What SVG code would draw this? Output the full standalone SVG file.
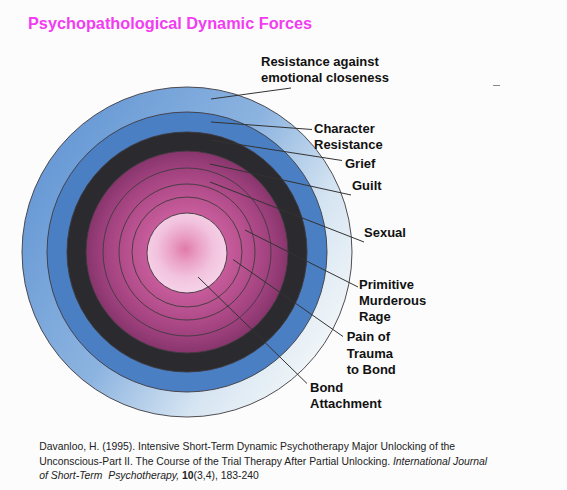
<svg xmlns="http://www.w3.org/2000/svg" width="567" height="490" viewBox="0 0 567 490">
  <defs>
    <linearGradient id="gOuter" x1="0.05" y1="0.3" x2="0.9" y2="0.85">
      <stop offset="0" stop-color="#6a9bd6"/>
      <stop offset="0.45" stop-color="#8db4e0"/>
      <stop offset="0.75" stop-color="#d6e5f2"/>
      <stop offset="1" stop-color="#f2f6f8"/>
    </linearGradient>
    <radialGradient id="gMagenta" gradientUnits="userSpaceOnUse" cx="187" cy="252" r="101">
      <stop offset="0.39" stop-color="#c75c9b"/>
      <stop offset="0.55" stop-color="#bb5391"/>
      <stop offset="0.68" stop-color="#af4a88"/>
      <stop offset="0.83" stop-color="#9f417e"/>
      <stop offset="1" stop-color="#88356c"/>
    </radialGradient>
    <radialGradient id="gPink" gradientUnits="userSpaceOnUse" cx="185" cy="249" r="41">
      <stop offset="0" stop-color="#e07ba9"/>
      <stop offset="0.35" stop-color="#eaa2c6"/>
      <stop offset="0.7" stop-color="#f2c3de"/>
      <stop offset="1" stop-color="#f5d0e6"/>
    </radialGradient>
  </defs>
  <style>
    .ring { stroke: #3e3a40; stroke-width: 0.9; }
    .lbl { font-family: "Liberation Sans", Arial, sans-serif; font-weight: bold; font-size: 13px; fill: #111; }
    .lead { stroke: #333; stroke-width: 1; fill: none; }
    .cap { font-family: "Liberation Sans", Arial, sans-serif; font-size: 10.4px; fill: #222; }
  </style>
  <rect x="0" y="0" width="567" height="490" fill="#fcfcfc"/>
  <text x="28" y="28.5" font-family="'Liberation Sans', Arial, sans-serif" font-weight="bold" font-size="16.3px" fill="#f23cf2">Psychopathological Dynamic Forces</text>

  <g id="node-resistance-closeness">
    <circle class="ring" cx="187" cy="252" r="165" fill="url(#gOuter)"/>
    <text class="lbl" x="261" y="65.5">Resistance against</text>
    <text class="lbl" x="261" y="81.5">emotional closeness</text>
  </g>
  <g id="node-character-resistance">
    <circle class="ring" cx="187" cy="252" r="140" fill="#4b7fc3"/>
    <text class="lbl" x="314" y="132.8">Character</text>
    <text class="lbl" x="314" y="148.5">Resistance</text>
  </g>
  <g id="node-grief">
    <circle class="ring" cx="187" cy="252" r="120" fill="#2b2a2e"/>
    <text class="lbl" x="345" y="167.8">Grief</text>
  </g>
  <g id="node-guilt">
    <circle class="ring" cx="187" cy="252" r="101" fill="url(#gMagenta)"/>
    <text class="lbl" x="352" y="190.2">Guilt</text>
  </g>
  <g id="node-sexual">
    <circle class="ring" cx="187" cy="252" r="84" fill="url(#gMagenta)"/>
    <text class="lbl" x="364" y="237.2">Sexual</text>
  </g>
  <g id="node-primitive-rage">
    <circle class="ring" cx="187" cy="252" r="68" fill="url(#gMagenta)"/>
    <text class="lbl" x="359" y="288.5">Primitive</text>
    <text class="lbl" x="359" y="305">Murderous</text>
    <text class="lbl" x="359" y="321.2">Rage</text>
  </g>
  <g id="node-pain-trauma">
    <circle class="ring" cx="187" cy="252" r="55" fill="url(#gMagenta)"/>
    <text class="lbl" x="346.7" y="341.2">Pain of</text>
    <text class="lbl" x="346.7" y="357.8">Trauma</text>
    <text class="lbl" x="346.7" y="373.8">to Bond</text>
  </g>
  <g id="node-bond-attachment">
    <circle class="ring" cx="187" cy="253" r="40" fill="url(#gPink)" stroke-width="1.2"/>
    <text class="lbl" x="310" y="391.5">Bond</text>
    <text class="lbl" x="310" y="407.5">Attachment</text>
  </g>

  <g id="connectors">
    <line class="lead" x1="211" y1="99" x2="291" y2="88"/>
    <line class="lead" x1="211" y1="122" x2="312" y2="129.5"/>
    <line class="lead" x1="210" y1="140" x2="342" y2="160.5"/>
    <line class="lead" x1="210" y1="164" x2="351" y2="195"/>
    <line class="lead" x1="210" y1="182" x2="364" y2="242"/>
    <line class="lead" x1="245" y1="230" x2="358" y2="287"/>
    <line class="lead" x1="233" y1="259.5" x2="343" y2="336.5"/>
    <line class="lead" x1="198" y1="277" x2="307" y2="383.5"/>
  </g>

  <line x1="493" y1="85.5" x2="500" y2="85.5" stroke="#888" stroke-width="1"/>

  <g id="caption">
    <text class="cap" x="39.3" y="449.5">Davanloo, H. (1995). Intensive Short-Term Dynamic Psychotherapy Major Unlocking of the</text>
    <text class="cap" x="39.3" y="464.5">Unconscious-Part II. The Course of the Trial Therapy After Partial Unlocking. <tspan font-style="italic">International Journal</tspan></text>
    <text class="cap" x="39.3" y="479" xml:space="preserve"><tspan font-style="italic">of Short-Term  Psychotherapy,</tspan> <tspan font-weight="bold">10</tspan>(3,4), 183-240</text>
  </g>
</svg>
